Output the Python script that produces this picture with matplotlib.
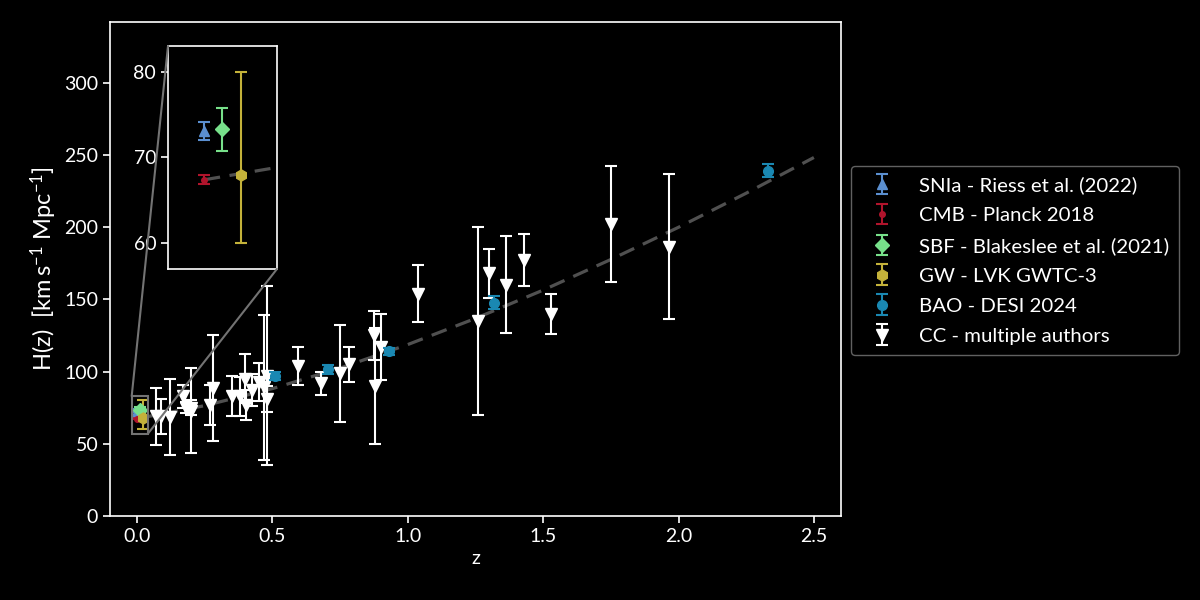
import numpy as np
import matplotlib
matplotlib.use("Agg")
import matplotlib.pyplot as plt
from matplotlib.patches import Rectangle, ConnectionPatch

plt.rcParams['font.family'] = ['Lato', 'DejaVu Sans']
plt.rcParams['mathtext.fontset'] = 'custom'
plt.rcParams['mathtext.rm'] = 'Lato'
plt.rcParams['mathtext.it'] = 'Lato:italic'

# local / early universe H0 measurements
z_sn, H_sn, e_sn = [0.0], [73.04], [1.04]
z_cmb, H_cmb, e_cmb = [0.0], [67.4], [0.5]
z_sbf, H_sbf, e_sbf = [0.01], [73.3], [2.5]
z_gw, H_gw, elo_gw, ehi_gw = [0.02], [68.0], [8.0], [12.0]

# BAO - DESI 2024
z_bao = [0.51, 0.706, 0.93, 1.317, 2.33]
H_bao = [97.1, 101.5, 114.0, 147.5, 239.2]
e_bao = [2.8, 3.0, 2.2, 4.5, 4.8]

# cosmic chronometers
z_cc = [0.07, 0.09, 0.12, 0.17, 0.179, 0.199, 0.2, 0.27, 0.28, 0.352, 0.3802,
        0.4, 0.4004, 0.4247, 0.4497, 0.47, 0.4783, 0.48, 0.593, 0.68, 0.75,
        0.781, 0.875, 0.88, 0.9, 1.037, 1.26, 1.3, 1.363, 1.43, 1.53, 1.75, 1.965]
H_cc = [69, 69, 68.6, 83, 75, 75, 72.9, 77, 88.8, 83, 83,
        95, 77, 87.1, 92.8, 89, 80.9, 97, 104, 92, 98.8,
        105, 125, 90, 117, 154, 135, 168, 160, 177, 140, 202, 186.5]
e_cc = [19.6, 12, 26.2, 8, 4, 5, 29.6, 14, 36.6, 14, 13.5,
        17, 10.2, 11.2, 12.9, 50, 9, 62, 13, 8, 33.6,
        12, 17, 40, 23, 20, 65, 17, 33.6, 18, 14, 40, 50.4]

# LCDM reference curve
z_model = [0.0, 0.25, 0.5, 0.75, 1.0, 1.25, 1.5, 1.75, 2.0, 2.25, 2.5]
H_model = [67.4, 76.4, 88.2, 102.4, 118.7, 136.8, 156.4, 177.6, 199.9, 223.5, 248.2]

# zoomed region
zoom_x = (-0.02, 0.04)
zoom_y = (57, 83)

c_sn = '#5b8fd0'
c_cmb = '#b0142c'
c_sbf = '#77e08a'
c_gw = '#c4b23a'
c_bao = '#1a88b2'
c_cc = 'white'

fig = plt.figure(figsize=(12, 6), dpi=100, facecolor='black')
ax = fig.add_axes([0.0917, 0.14, 0.6091, 0.8233], facecolor='black')


def draw(a, inset=False):
    a.plot(z_model, H_model, ls='--', color='#505050', lw=2.3, dashes=(5, 3), zorder=1)
    a.errorbar(z_sn, H_sn, yerr=e_sn, fmt='^', color=c_sn, ms=7, capsize=4, elinewidth=1.5,
               capthick=1.5, label='SNIa - Riess et al. (2022)', zorder=3)
    a.errorbar(z_cmb, H_cmb, yerr=e_cmb, fmt='.', color=c_cmb, ms=8, capsize=4, elinewidth=1.5,
               capthick=1.5, label='CMB - Planck 2018', zorder=3)
    a.errorbar(z_sbf, H_sbf, yerr=e_sbf, fmt='D', color=c_sbf, ms=7, capsize=4, elinewidth=1.5,
               capthick=1.5, label='SBF - Blakeslee et al. (2021)', zorder=3)
    a.errorbar(z_gw, H_gw, yerr=[elo_gw, ehi_gw], fmt='h', color=c_gw, ms=8, capsize=4,
               elinewidth=1.5, capthick=1.5, label='GW - LVK GWTC-3', zorder=3)
    if not inset:
        a.errorbar(z_bao, H_bao, yerr=e_bao, fmt='o', color=c_bao, ms=7, capsize=4, elinewidth=1.5,
                   capthick=1.5, label='BAO - DESI 2024', zorder=3)
        a.errorbar(z_cc, H_cc, yerr=e_cc, fmt='v', color=c_cc, ms=8.5, capsize=4, elinewidth=1.5,
                   capthick=1.5, label='CC - multiple authors', zorder=2)


draw(ax)
ax.set_xlim(-0.1, 2.6)
ax.set_ylim(0, 342)
ax.set_xlabel('z', color='white', fontsize=14)
ax.set_ylabel(r'H(z)  [km$\,$s$^{-1}$ Mpc$^{-1}$]', color='white', fontsize=17)
ax.tick_params(colors='white', labelsize=14, width=1.2, length=5)
for s in ax.spines.values():
    s.set_color('white')
    s.set_linewidth(1.2)

axins = fig.add_axes([0.14, 0.5517, 0.0908, 0.3717], facecolor='black')
draw(axins, inset=True)
axins.set_xlim(*zoom_x)
axins.set_ylim(*zoom_y)
axins.set_xticks([])
axins.set_yticks([60, 70, 80])
axins.tick_params(colors='white', labelsize=14, width=1.2, length=5)
for s in axins.spines.values():
    s.set_color('white')
    s.set_linewidth(1.2)

# zoom box and connectors
ax.add_patch(Rectangle((zoom_x[0], zoom_y[0]), zoom_x[1] - zoom_x[0], zoom_y[1] - zoom_y[0],
                       fill=False, edgecolor='0.45', lw=1.5, zorder=5))
for (cx, cy), (ix, iy) in [((zoom_x[0], zoom_y[1]), (0, 1)), ((zoom_x[1], zoom_y[0]), (1, 0))]:
    con = ConnectionPatch(xyA=(cx, cy), coordsA=ax.transData, xyB=(ix, iy),
                          coordsB=axins.transAxes, color='0.45', lw=1.5)
    fig.add_artist(con)

leg = ax.legend(loc='center left', bbox_to_anchor=(1.0, 0.517), fontsize=14.7,
                facecolor='black', edgecolor='0.38', labelcolor='white', framealpha=1,
                handletextpad=0.8, borderpad=0.5, labelspacing=0.62)

fig.savefig('out.png', dpi=100, facecolor='black')
